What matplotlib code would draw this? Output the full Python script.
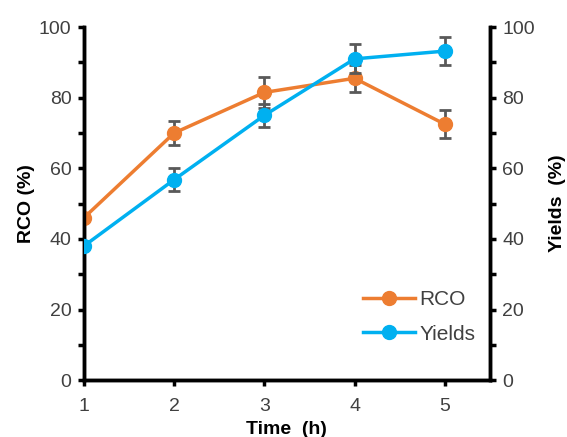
import matplotlib
matplotlib.use("Agg")
import matplotlib.pyplot as plt
from matplotlib.ticker import MultipleLocator
from matplotlib.lines import Line2D

plt.rcParams['font.family'] = ['Liberation Sans', 'DejaVu Sans']

time_h = [1, 2, 3, 4, 5]
rco = [46.0, 70.0, 81.5, 85.5, 72.5]
rco_err = [0.0, 3.3, 4.3, 3.9, 4.0]
yields = [38.0, 56.8, 75.0, 91.0, 93.2]
yields_err = [0.0, 3.2, 3.2, 4.1, 4.0]

orange = '#ED7D31'
blue = '#00B0F0'
errc = '#595959'
txt = '#404040'

fig = plt.figure(figsize=(5.67, 4.37), dpi=100)
ax = fig.add_axes([0.148, 0.130, 0.716, 0.808])
ax2 = ax.twinx()

ax.errorbar(time_h, rco, yerr=rco_err, color=orange, lw=2.5, marker='o', ms=10,
            ecolor=errc, elinewidth=2, capsize=4, capthick=2, label='RCO', zorder=3)
ax2.errorbar(time_h, yields, yerr=yields_err, color=blue, lw=2.5, marker='o', ms=10,
             ecolor=errc, elinewidth=2, capsize=4, capthick=2, label='Yields', zorder=3)

for a in (ax, ax2):
    a.set_ylim(0, 100)
    a.set_xlim(1, 5.5)
    a.yaxis.set_major_locator(MultipleLocator(20))
    a.yaxis.set_minor_locator(MultipleLocator(10))
    a.tick_params(axis='y', which='both', direction='out', length=4, width=2.5,
                  labelsize=14, labelcolor=txt, pad=5)
    for s in a.spines.values():
        s.set_linewidth(2.5)

ax.set_xticks(time_h)
ax.tick_params(axis='x', direction='out', length=4, width=2.5, labelsize=14,
               labelcolor=txt, pad=9)
ax.spines['top'].set_visible(False)
ax2.spines['top'].set_visible(False)

ax.set_xlabel('Time  (h)', fontsize=14, fontweight='bold', labelpad=4)
ax.set_ylabel('RCO (%)', fontsize=14, fontweight='bold', labelpad=3)
ax2.set_ylabel('Yields  (%)', fontsize=14, fontweight='bold', rotation=90, labelpad=10)

handles = [Line2D([], [], color=orange, lw=2.5, marker='o', ms=10),
           Line2D([], [], color=blue, lw=2.5, marker='o', ms=10)]
leg = ax2.legend(handles, ['RCO', 'Yields'], loc='lower right', bbox_to_anchor=(1.01, 0.05),
                 frameon=False, fontsize=15, handlelength=2.5, handletextpad=0.2,
                 labelspacing=0.75)
for t in leg.get_texts():
    t.set_color(txt)

fig.savefig('out.png', dpi=100)
